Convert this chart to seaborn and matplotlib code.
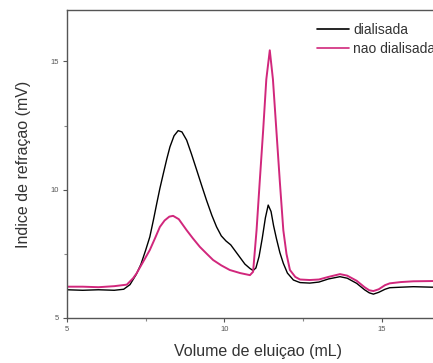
import matplotlib
matplotlib.use("Agg")
import matplotlib.pyplot as plt
import pandas as pd
import seaborn as sns

# values
x_dial = [5.0, 5.5, 6.0, 6.5, 6.8, 7.0, 7.2, 7.35, 7.5, 7.63, 7.75, 7.85, 7.95, 8.06, 8.17,
          8.27, 8.4, 8.53, 8.65, 8.8, 8.95, 9.12, 9.28, 9.43, 9.6, 9.75, 9.9, 10.05, 10.2,
          10.35, 10.5, 10.65, 10.81, 10.91, 11.0, 11.1, 11.2, 11.3, 11.39, 11.48, 11.56,
          11.65, 11.76, 11.87, 12.0, 12.19, 12.4, 12.71, 13.0, 13.3, 13.67, 13.9, 14.2,
          14.45, 14.6, 14.73, 14.9, 15.1, 15.25, 15.6, 16.0, 16.6, 17.5]
y_dial = [6.1, 6.08, 6.1, 6.08, 6.12, 6.3, 6.7, 7.1, 7.65, 8.16, 8.85, 9.46, 10.05, 10.63, 11.2,
          11.67, 12.1, 12.3, 12.25, 11.93, 11.4, 10.76, 10.15, 9.59, 9.0, 8.55, 8.2, 8.0, 7.85,
          7.6, 7.35, 7.1, 6.93, 6.85, 6.95, 7.4, 8.1, 8.9, 9.4, 9.15, 8.6,
          8.1, 7.55, 7.13, 6.75, 6.48, 6.38, 6.36, 6.4, 6.52, 6.61, 6.55, 6.35,
          6.1, 5.98, 5.93, 6.0, 6.12, 6.18, 6.2, 6.22, 6.2, 6.2]

x_nao = [5.0, 5.5, 6.0, 6.5, 6.9, 7.1, 7.21, 7.4, 7.63, 7.8, 7.95, 8.1, 8.25, 8.37, 8.55,
         8.8, 9.0, 9.22, 9.44, 9.64, 9.9, 10.17, 10.5, 10.81, 10.91, 11.02, 11.12, 11.23,
         11.33, 11.44, 11.54, 11.65, 11.76, 11.87, 11.97, 12.08, 12.25, 12.4, 12.71, 13.0,
         13.3, 13.67, 13.9, 14.2, 14.45, 14.6, 14.73, 14.9, 15.1, 15.25, 15.6, 16.0, 16.6, 17.5]
y_nao = [6.22, 6.22, 6.2, 6.24, 6.3, 6.55, 6.74, 7.15, 7.65, 8.12, 8.55, 8.8, 8.95, 8.98, 8.85,
         8.42, 8.1, 7.77, 7.5, 7.26, 7.05, 6.87, 6.75, 6.67, 6.8, 8.42, 10.3, 12.32,
         14.3, 15.43, 14.3, 12.3, 10.3, 8.42, 7.5, 6.87, 6.6, 6.5, 6.48, 6.5,
         6.6, 6.71, 6.65, 6.45, 6.2, 6.08, 6.05, 6.12, 6.28, 6.35, 6.4, 6.43, 6.44, 6.44]

labels = ["dialisada", "nao dialisada"]
colors = ["black", "#d1277c"]

df = pd.concat([
    pd.DataFrame({"vol": x_dial, "ri": y_dial, "amostra": labels[0]}),
    pd.DataFrame({"vol": x_nao, "ri": y_nao, "amostra": labels[1]}),
])

sns.set_style("ticks")
plt.rcParams["font.family"] = ["Liberation Sans", "DejaVu Sans"]

fig = plt.figure(figsize=(4.33, 3.63), dpi=100)
# the axes run past the right edge, as in the cropped original
ax = fig.add_axes([67 / 433, 1 - 318 / 363, 381 / 433, 308 / 363])

sns.lineplot(data=df, x="vol", y="ri", hue="amostra", hue_order=labels,
             palette=colors, ax=ax, sort=False, estimator=None, linewidth=1.2)
for ln, lw in zip(ax.lines, [1.0, 1.4]):
    ln.set_linewidth(lw)

ax.set_xlim(5, 17.1)
ax.set_ylim(5, 17)
ax.set_xticks([5, 10, 15])
ax.set_yticks([5, 10, 15])
ax.set_xticks([7.5, 12.5], minor=True)
ax.set_yticks([7.5, 12.5], minor=True)
ax.tick_params(which="major", direction="out", length=3, width=0.8, labelsize=5.5,
               colors="#555555", pad=3)
ax.tick_params(which="minor", direction="out", length=2, width=0.8, colors="#888888")
for sp in ax.spines.values():
    sp.set_color("#555555")
    sp.set_linewidth(1.0)
ax.spines["right"].set_visible(False)

ax.set_xlabel("Volume de eluiçao (mL)", fontsize=11.5, color="#333333", labelpad=8)
ax.set_ylabel("Indice de refraçao (mV)", fontsize=11.5, color="#333333", labelpad=14)

leg = ax.legend(frameon=False, loc="upper left", bbox_to_anchor=(317 / 433, 1 - 23 / 363),
                bbox_transform=fig.transFigure, borderpad=0, borderaxespad=0,
                handlelength=2.3, handletextpad=0.3, labelspacing=0.35, fontsize=10,
                labelcolor="#333333")

fig.savefig("out.png", dpi=100)
